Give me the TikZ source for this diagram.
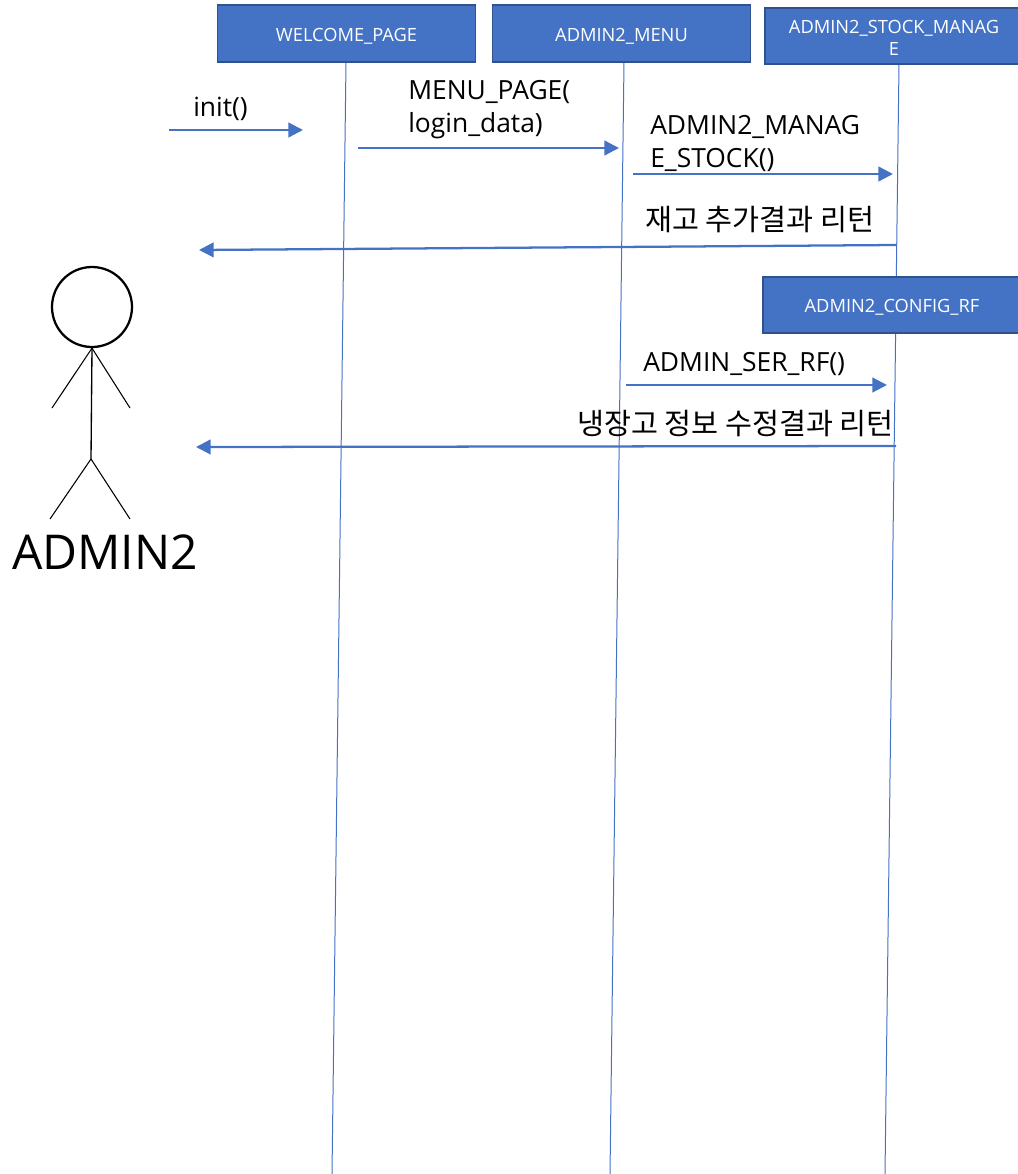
\documentclass[tikz,border=0pt]{standalone}
\usepackage{fontspec}
\setmainfont{Open Sans}
\newfontfamily\krfont{Noto Sans CJK KR}
\usetikzlibrary{arrows.meta}
\definecolor{mblue}{HTML}{4472C4}
\definecolor{mborder}{HTML}{2F528F}
\tikzset{lifebox/.style = {draw=mborder, fill=mblue, line width=1.4pt, text=white, align=center, inner sep=0,
                           minimum width=193.5pt, minimum height=42.5pt, text height=13.5pt,
                           font=\fontsize{13.7}{16.5}\selectfont}}
\tikzset{lifeline/.style = {draw=mblue, line width=0.75pt}}
\tikzset{msg/.style = {draw=mblue, line width=1.7pt, -{Triangle[length=11pt, width=11pt]}}}
\tikzset{msgtext/.style = {anchor=base west, inner sep=0, align=left, font=\fontsize{19.8}{24.5}\selectfont}}
\tikzset{krtext/.style = {anchor=base west, inner sep=0, font=\fontsize{22}{24}\krfont}}
\tikzset{stick/.style = {draw=black, line width=1pt}}

\begin{document}
\begin{tikzpicture}[x=0.75pt, y=-0.75pt]
      \useasboundingbox (0, 0) rectangle (1017, 1174);

      % lifelines go first, the boxes cover them
      \coordinate (welcometop) at (346, 62);
      \coordinate (menutop) at (624, 62);
      \coordinate (stocktop) at (899, 64);
      \coordinate (welcomeend) at (332, 1174);
      \coordinate (menuend) at (610, 1174);
      \coordinate (stockend) at (885, 1174);
      \draw [lifeline] (welcometop) -- (welcomeend);
      \draw [lifeline] (menutop) -- (menuend);
      \draw [lifeline] (stocktop) -- (stockend);

      \node [lifebox] (welcome) at (346.5, 33.5) {WELCOME\_PAGE};
      \node [lifebox] (menu) at (621.5, 33.5) {ADMIN2\_MENU};
      \node [lifebox, text height=28.5pt] (stock) at (894, 36) {ADMIN2\_STOCK\_MANAG\\E};
      \node [lifebox] (config) at (892, 305) {ADMIN2\_CONFIG\_RF};

      % messages
      \coordinate (inita) at (169, 130);
      \coordinate (initb) at (303, 130);
      \draw [msg] (inita) -- (initb);
      \node [msgtext] (inittext) at (193, 116) {init()};

      \coordinate (pagea) at (358, 148);
      \coordinate (pageb) at (619, 148);
      \draw [msg] (pagea) -- (pageb);
      \node [msgtext] (pagetext) at (408, 132.5) {MENU\_PAGE(\\login\_data)};

      \coordinate (managea) at (633, 174);
      \coordinate (manageb) at (893, 174);
      \draw [msg] (managea) -- (manageb);
      \node [msgtext] (managetext) at (650, 167.5) {ADMIN2\_MANAG\\E\_STOCK()};

      \coordinate (stockreta) at (896, 245);
      \coordinate (stockretb) at (199, 250);
      \draw [msg] (stockreta) -- (stockretb);
      \node [krtext] (stockrettext) at (645, 230.5) {재고 추가결과 리턴};

      \coordinate (rfa) at (626, 385);
      \coordinate (rfb) at (887, 385);
      \draw [msg] (rfa) -- (rfb);
      \node [msgtext] (rftext) at (643, 371) {ADMIN\_SER\_RF()};

      \coordinate (rfreta) at (896, 446);
      \coordinate (rfretb) at (196, 447);
      \draw [msg] (rfreta) -- (rfretb);
      \node [krtext] (rfrettext) at (577, 434) {냉장고 정보 수정결과 리턴};

      % the actor
      \node [stick, circle, line width=1.7pt, inner sep=0, minimum size=60pt] (head) at (92, 307) {};
      \coordinate (hip) at (91, 459);
      \coordinate (handl) at (52, 408);
      \coordinate (handr) at (130, 408);
      \coordinate (footl) at (50, 519);
      \coordinate (footr) at (130, 519);
      \draw [stick] (head.south) -- (hip);
      \draw [stick, line width=0.8pt] (head.south) -- (handl);
      \draw [stick, line width=0.8pt] (head.south) -- (handr);
      \draw [stick, line width=0.8pt] (hip) -- (footl);
      \draw [stick, line width=0.8pt] (hip) -- (footr);
      \node [anchor=base west, inner sep=0, font=\fontsize{36}{40}\selectfont] (actor) at (12, 569) {ADMIN2};
    \end{tikzpicture}
\end{document}
